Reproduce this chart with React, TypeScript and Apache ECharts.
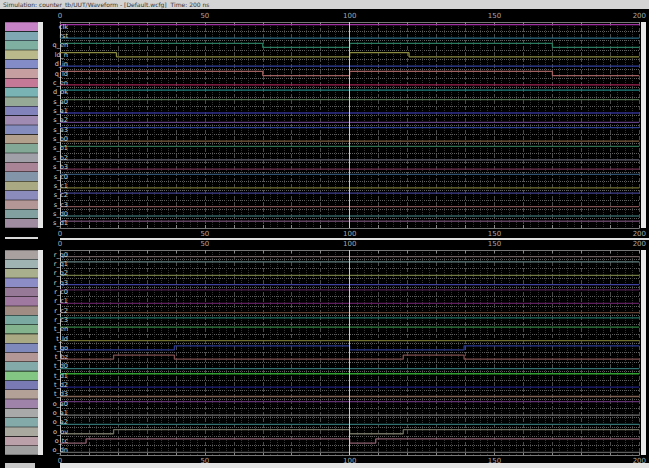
import React, { useEffect, useRef } from "react";
import * as echarts from "echarts";

const TITLE = "Simulation: counter_tb/UUT/Waveform - [Default.wcfg]  Time: 200 ns";
const TIME_TICKS = [0, 50, 100, 150, 200];
const CURSOR_TIME = 100;

const topNames = ["clk", "rst", "q_en", "ld_n", "d_in", "q_ld", "c_en", "d_ok", "s_a0", "s_a1", "s_a2", "s_a3", "s_b0", "s_b1", "s_b2", "s_b3", "s_c0", "s_c1", "s_c2", "s_c3", "s_d0", "s_d1"];
const topColors = ["#a030a0", "#2a6a80", "#2a7a60", "#8a8a40", "#3040a0", "#a06060", "#a02050", "#208080", "#507050", "#303090", "#604080", "#304090", "#806040", "#307050", "#606070", "#703050", "#305070", "#707030", "#404090", "#805050", "#306060", "#604060"];
const topWaves: number[][][] = [
  [[0, 1]],
  [[0, 0]],
  [[0, 1], [70, 0], [100, 1], [170, 0]],
  [[0, 1], [19.5, 0], [100, 1], [120.5, 0]],
  [[0, 0]],
  [[0, 1], [70, 0], [100, 1], [170, 0]],
  [[0, 0]],
  [[0, 1]],
  [[0, 1]],
  [[0, 0]],
  [[0, 0]],
  [[0, 1]],
  [[0, 0]],
  [[0, 1]],
  [[0, 0]],
  [[0, 0]],
  [[0, 1]],
  [[0, 0]],
  [[0, 1]],
  [[0, 0]],
  [[0, 0]],
  [[0, 1]],
];

const bottomNames = ["r_q0", "r_q1", "r_q2", "r_q3", "r_c0", "r_c1", "r_c2", "r_c3", "t_en", "t_ld", "t_go", "t_bz", "t_d0", "t_d1", "t_d2", "t_d3", "o_a0", "o_a1", "o_a2", "o_ov", "o_tc", "o_dn"];
const bottomColors = ["#706060", "#608080", "#707a40", "#4040a0", "#502050", "#602060", "#604030", "#207060", "#308040", "#707030", "#2a3a90", "#805050", "#307070", "#30a030", "#202080", "#806050", "#603070", "#707070", "#307070", "#707060", "#906070", "#606060"];
const bottomWaves: number[][][] = [
  [[0, 0]],
  [[0, 1]],
  [[0, 0]],
  [[0, 0]],
  [[0, 1]],
  [[0, 0]],
  [[0, 0]],
  [[0, 1]],
  [[0, 1]],
  [[0, 0]],
  [[0, 0], [39.5, 1], [100, 0], [139.5, 1]],
  [[0, 0], [18.5, 1], [39.5, 0], [118.5, 1], [139.5, 0]],
  [[0, 0]],
  [[0, 1]],
  [[0, 0]],
  [[0, 0]],
  [[0, 1]],
  [[0, 0]],
  [[0, 0]],
  [[0, 0], [18.5, 1], [100, 0], [118.5, 1]],
  [[0, 0], [9, 1], [100, 0], [109, 1]],
  [[0, 0]],
];

function lighten(hex: string, k: number) {
  const n = parseInt(hex.slice(1), 16);
  const r = (n >> 16) & 255, g = (n >> 8) & 255, b = n & 255;
  const f = (c: number) => Math.round(c + (255 - c) * k);
  return `rgb(${f(r)},${f(g)},${f(b)})`;
}

const W = 649;
const PANELS = [
  { top: 22, height: 206, names: topNames, colors: topColors, waves: topWaves },
  { top: 250, height: 205, names: bottomNames, colors: bottomColors, waves: bottomWaves },
];

export default function App() {
  const ref = useRef<HTMLDivElement>(null);
  useEffect(() => {
    if (!ref.current) return;
    const chart = echarts.init(ref.current, null, { renderer: "svg" });
    const grid: any[] = [];
    const xAxis: any[] = [];
    const yAxis: any[] = [];
    const series: any[] = [];
    const labelStyle = { color: "#a8a8a8", fontSize: 7, fontFamily: "DejaVu Sans" };

    PANELS.forEach((p) => {
      const n = p.names.length;
      const gSw = grid.length;
      grid.push({ left: 5, top: p.top, width: 33, height: p.height });
      const gW = grid.length;
      grid.push({ left: 60, top: p.top, width: 580, height: p.height });

      const xSw = xAxis.length;
      xAxis.push({ gridIndex: gSw, type: "value", min: 0, max: 1, show: false });
      const xTop = xAxis.length;
      xAxis.push({
        gridIndex: gW, type: "value", min: 0, max: 200, interval: 10, position: "top",
        axisLine: { show: true, lineStyle: { color: "#777" } },
        axisTick: { show: true, inside: true, length: 3, lineStyle: { color: "#888" } },
        minorTick: { show: false, splitNumber: 4 },
        axisLabel: { ...labelStyle, margin: 3, formatter: (v: number) => (TIME_TICKS.includes(v) ? String(v) : "") },
        splitLine: { show: true, lineStyle: { color: "#4a4a4a", type: "dashed", width: 1 } },
        minorSplitLine: { show: true, lineStyle: { color: "#333", type: "dotted", width: 1 } },
      });
      xAxis.push({
        gridIndex: gW, type: "value", min: 0, max: 200, interval: 10, position: "bottom",
        axisLine: { show: true, lineStyle: { color: "#777" } },
        axisTick: { show: true, inside: true, length: 3, lineStyle: { color: "#888" } },
        axisLabel: { ...labelStyle, margin: 2, formatter: (v: number) => (TIME_TICKS.includes(v) ? String(v) : "") },
        splitLine: { show: false },
      });

      const ySw = yAxis.length;
      yAxis.push({ gridIndex: gSw, type: "category", data: p.names, inverse: true, show: false });
      const yVal = yAxis.length;
      yAxis.push({
        gridIndex: gW, type: "value", min: 0, max: n, interval: 1, inverse: true, z: 0,
        axisLabel: { show: false }, axisTick: { show: false },
        axisLine: { show: true, lineStyle: { color: "#bbb" } },
        splitLine: { show: true, lineStyle: { color: "#606060", type: "dotted", width: 1 } },
      });
      yAxis.push({
        gridIndex: gW, type: "category", data: p.names, inverse: true, position: "left", z: 20,
        axisLine: { show: false }, axisTick: { show: false }, splitLine: { show: false },
        axisLabel: { color: "#d0d0d0", fontSize: 6.5, fontFamily: "DejaVu Sans", margin: -8 },
      });

      series.push({
        type: "bar", xAxisIndex: xSw, yAxisIndex: ySw, barCategoryGap: "6%", silent: true,
        data: p.colors.map((c) => ({ value: 1, itemStyle: { color: lighten(c, 0.4) } })),
      });

      p.waves.forEach((w, i) => {
        const yOf = (l: number) => i + (l ? 0.28 : 0.72);
        const data = w.map(([t, l]) => [t, yOf(l)]);
        data.push([200, yOf(w[w.length - 1][1])]);
        const s: any = {
          type: "line", name: p.names[i], xAxisIndex: xTop, yAxisIndex: yVal, step: "end",
          data, symbol: "none", silent: true, z: 3,
          lineStyle: { color: p.colors[i], width: 1.3 },
        };
        if (i === 0) {
          s.markLine = {
            silent: true, symbol: "none", label: { show: false },
            lineStyle: { color: "#c8c8c8", type: "solid", width: 1 },
            data: [{ xAxis: CURSOR_TIME }],
          };
        }
        series.push(s);
      });
    });

    chart.setOption({
      animation: false,
      backgroundColor: "#000",
      grid,
      xAxis,
      yAxis,
      series,
      graphic: [
        { type: "rect", shape: { x: 0, y: 0, width: W, height: 9 }, style: { fill: "#d4d4d4" }, silent: true },
        { type: "text", x: 3, y: 1.5, style: { text: TITLE, fill: "#333", fontSize: 6, fontFamily: "DejaVu Sans" }, silent: true },
        { type: "rect", shape: { x: 38, y: 22, width: 5, height: 206 }, style: { fill: "#e6e6e6" }, silent: true },
        { type: "rect", shape: { x: 38, y: 250, width: 5, height: 205 }, style: { fill: "#e6e6e6" }, silent: true },
        { type: "rect", shape: { x: 641, y: 22, width: 5, height: 206 }, style: { fill: "#e8e8e8" }, silent: true },
        { type: "rect", shape: { x: 641, y: 250, width: 5, height: 205 }, style: { fill: "#e8e8e8" }, silent: true },
        { type: "rect", shape: { x: 5, y: 237, width: 33, height: 2 }, style: { fill: "#d8d8d8" }, silent: true },
        { type: "rect", shape: { x: 60, y: 238, width: 589, height: 2 }, style: { fill: "#e0e0e0" }, silent: true },
        { type: "rect", shape: { x: 60, y: 463, width: 589, height: 5 }, style: { fill: "#e4e4e4" }, silent: true },
        { type: "rect", shape: { x: 5, y: 463, width: 30, height: 5 }, style: { fill: "#c8c8c8" }, silent: true },
      ],
    });
    return () => chart.dispose();
  }, []);
  return <div ref={ref} style={{ position: "absolute", left: 0, top: 0, width: 649, height: 468 }} />;
}
